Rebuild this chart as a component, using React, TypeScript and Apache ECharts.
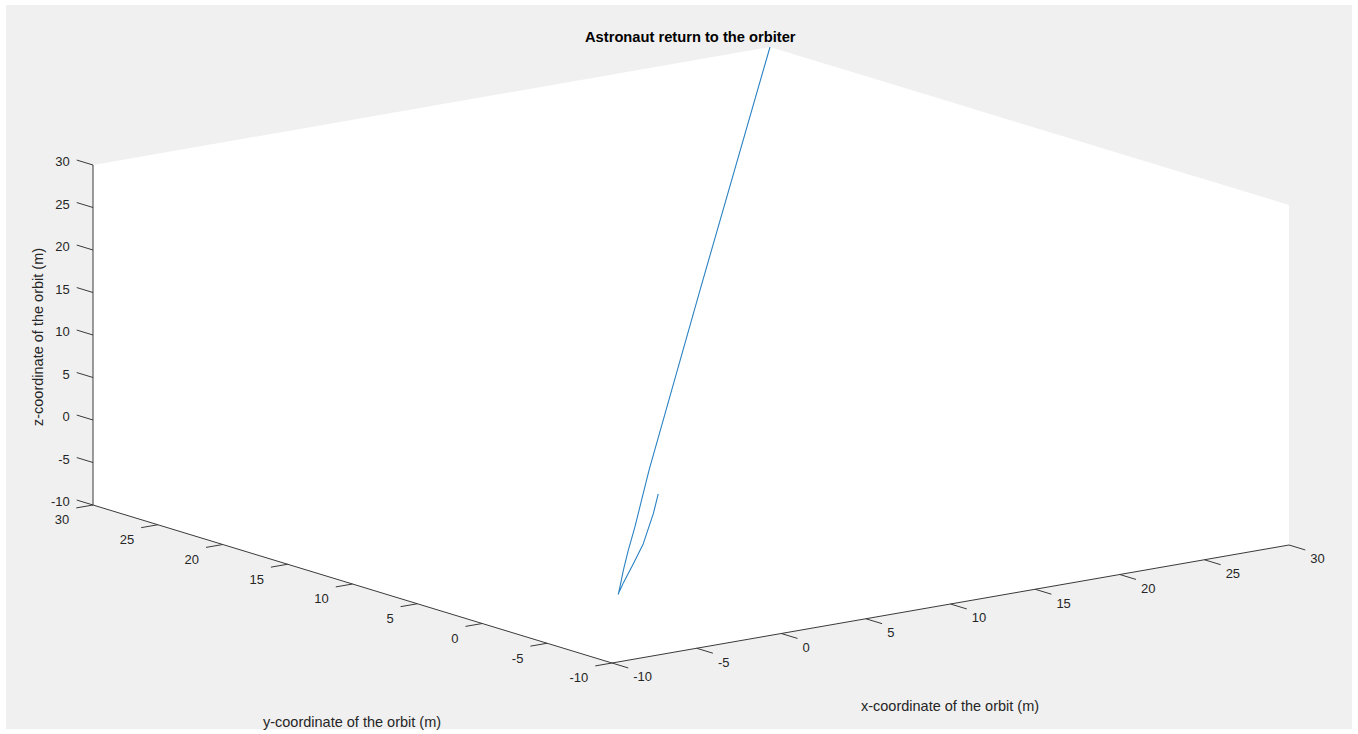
import React, { useEffect, useRef } from "react";
import * as echarts from "echarts";

// ---------- data ----------
const titleText = "Astronaut return to the orbiter";
const xAxisName = "x-coordinate of the orbit (m)";
const yAxisName = "y-coordinate of the orbit (m)";
const zAxisName = "z-coordinate of the orbit (m)";

const xRange = [-10, 30];
const yRange = [-10, 30];
const zRange = [-10, 30];
const xTicks = [-10, -5, 0, 5, 10, 15, 20, 25, 30];
const yTicks = [-10, -5, 0, 5, 10, 15, 20, 25, 30];
const zTicks = [-10, -5, 0, 5, 10, 15, 20, 25, 30];

const trajX = [1.7, 0.5, -2.1, -4.6, -7.1, -8.2, -8.4, -8.0, -7.1, -5.9, -4.2, -2.5, -0.6, 12.3, 30];
const trajY = [1.7, 0.5, -2.1, -4.6, -7.1, -8.2, -8.4, -8.0, -7.1, -5.9, -4.2, -2.5, -0.6, 12.3, 30];
const trajZ = [0.4, -0.9, -2.4, -2.7, -2.9, -3.1, -3.2, -2.7, -1.4, -0.1, 1.3, 3.1, 5.1, 15.8, 30];

// ---------- view (3D projection of the axes box) ----------
const W = 1358;
const H = 734;
const ORIGIN = [612, 663]; // screen position of (xmin, ymin, zmin)
const EX = [677, -118]; // screen vector spanning the full x range
const EY = [-519, -158]; // screen vector spanning the full y range
const EZ = [0, -340]; // screen vector spanning the full z range
const TICK_LEN = 17;
const FAMILY = '"Liberation Sans", Arial, sans-serif';
const FONT = "13px " + FAMILY;
const NAME_FONT = "14.5px " + FAMILY;
const TEXT_COLOR = "#262626";
const AXIS_COLOR = "#3a3a3a";

function proj(x: number, y: number, z: number): number[] {
  const fx = (x - xRange[0]) / (xRange[1] - xRange[0]);
  const fy = (y - yRange[0]) / (yRange[1] - yRange[0]);
  const fz = (z - zRange[0]) / (zRange[1] - zRange[0]);
  return [
    ORIGIN[0] + EX[0] * fx + EY[0] * fy + EZ[0] * fz,
    ORIGIN[1] + EX[1] * fx + EY[1] * fy + EZ[1] * fz,
  ];
}

function unit(v: number[]): number[] {
  const l = Math.hypot(v[0], v[1]);
  return [v[0] / l, v[1] / l];
}

function seg(a: number[], b: number[], color: string, w: number) {
  return {
    type: "line",
    shape: { x1: a[0], y1: a[1], x2: b[0], y2: b[1] },
    style: { stroke: color, lineWidth: w },
  };
}

function txt(text: string, x: number, y: number, align: string, vAlign: string, font: string, rotation = 0) {
  return {
    type: "text",
    x,
    y,
    rotation,
    style: { text, x: 0, y: 0, align, verticalAlign: vAlign, font, fill: TEXT_COLOR },
  };
}

function renderBox() {
  const [x0, x1] = xRange;
  const [y0, y1] = yRange;
  const [z0, z1] = zRange;
  const children: any[] = [];
  // figure background
  children.push({ type: "rect", shape: { x: 6, y: 5, width: W - 12, height: H - 10 }, style: { fill: "#f0f0f0" } });
  // visible back faces of the axes box
  const hex = [
    proj(x0, y1, z1),
    proj(x1, y1, z1),
    proj(x1, y0, z1),
    proj(x1, y0, z0),
    proj(x0, y0, z0),
    proj(x0, y1, z0),
  ];
  children.push({ type: "polygon", shape: { points: hex }, style: { fill: "#ffffff" } });

  // axis lines
  children.push(seg(proj(x0, y1, z0), proj(x0, y1, z1), AXIS_COLOR, 1));
  children.push(seg(proj(x0, y0, z0), proj(x0, y1, z0), AXIS_COLOR, 1));
  children.push(seg(proj(x0, y0, z0), proj(x1, y0, z0), AXIS_COLOR, 1));

  // z ticks (point toward +y)
  const dz = unit(EY);
  zTicks.forEach((t) => {
    const p = proj(x0, y1, t);
    const e = [p[0] + dz[0] * TICK_LEN, p[1] + dz[1] * TICK_LEN];
    children.push(seg(p, e, AXIS_COLOR, 1));
    children.push(txt(String(t), e[0] - 7, e[1] + 1.5, "right", "middle", FONT));
  });
  // y ticks (point toward -x)
  const dy = unit([-EX[0], -EX[1]]);
  yTicks.forEach((t) => {
    const p = proj(x0, t, z0);
    const e = [p[0] + dy[0] * TICK_LEN, p[1] + dy[1] * TICK_LEN];
    children.push(seg(p, e, AXIS_COLOR, 1));
    children.push(txt(String(t), e[0] - 7, e[1] + 12, "right", "middle", FONT));
  });
  // x ticks (point toward -y)
  const dx = unit([-EY[0], -EY[1]]);
  xTicks.forEach((t) => {
    const p = proj(t, y0, z0);
    const e = [p[0] + dx[0] * TICK_LEN, p[1] + dx[1] * TICK_LEN];
    children.push(seg(p, e, AXIS_COLOR, 1));
    children.push(txt(String(t), e[0] + 5, e[1] + 9, "left", "middle", FONT));
  });

  // axis names
  children.push(txt(xAxisName, 950, 706, "center", "middle", NAME_FONT));
  children.push(txt(yAxisName, 352, 722, "center", "middle", NAME_FONT));
  children.push(txt(zAxisName, 38, 337, "center", "middle", NAME_FONT, Math.PI / 2));

  return { type: "group", children };
}

function renderTrajectory() {
  const points = trajX.map((x, i) => proj(x, trajY[i], trajZ[i]));
  return {
    type: "polyline",
    shape: { points },
    style: { stroke: "#2a82c2", lineWidth: 1.1, fill: null, lineJoin: "round" },
  };
}

const option: any = {
  animation: false,
  backgroundColor: "#ffffff",
  title: {
    text: titleText,
    left: 585,
    top: 29,
    padding: 0,
    textStyle: {
      fontFamily: FAMILY,
      fontSize: 14.7,
      fontWeight: "bold",
      color: "#000000",
      lineHeight: 16,
    },
  },
  series: [
    {
      type: "custom",
      coordinateSystem: "none",
      silent: true,
      z: 1,
      data: [[0]],
      renderItem: () => renderBox(),
    },
    {
      type: "custom",
      coordinateSystem: "none",
      silent: true,
      z: 2,
      data: trajX.map((x, i) => [x, trajY[i], trajZ[i]]),
      renderItem: (params: any) => (params.dataIndex === 0 ? renderTrajectory() : null),
    },
  ],
};

export default function App() {
  const ref = useRef<HTMLDivElement>(null);
  useEffect(() => {
    const chart = echarts.init(ref.current!, null, { renderer: "svg" });
    chart.setOption(option);
    return () => chart.dispose();
  }, []);
  return (
    <div
      ref={ref}
      style={{ position: "absolute", left: 0, top: 0, width: W, height: H }}
    />
  );
}
